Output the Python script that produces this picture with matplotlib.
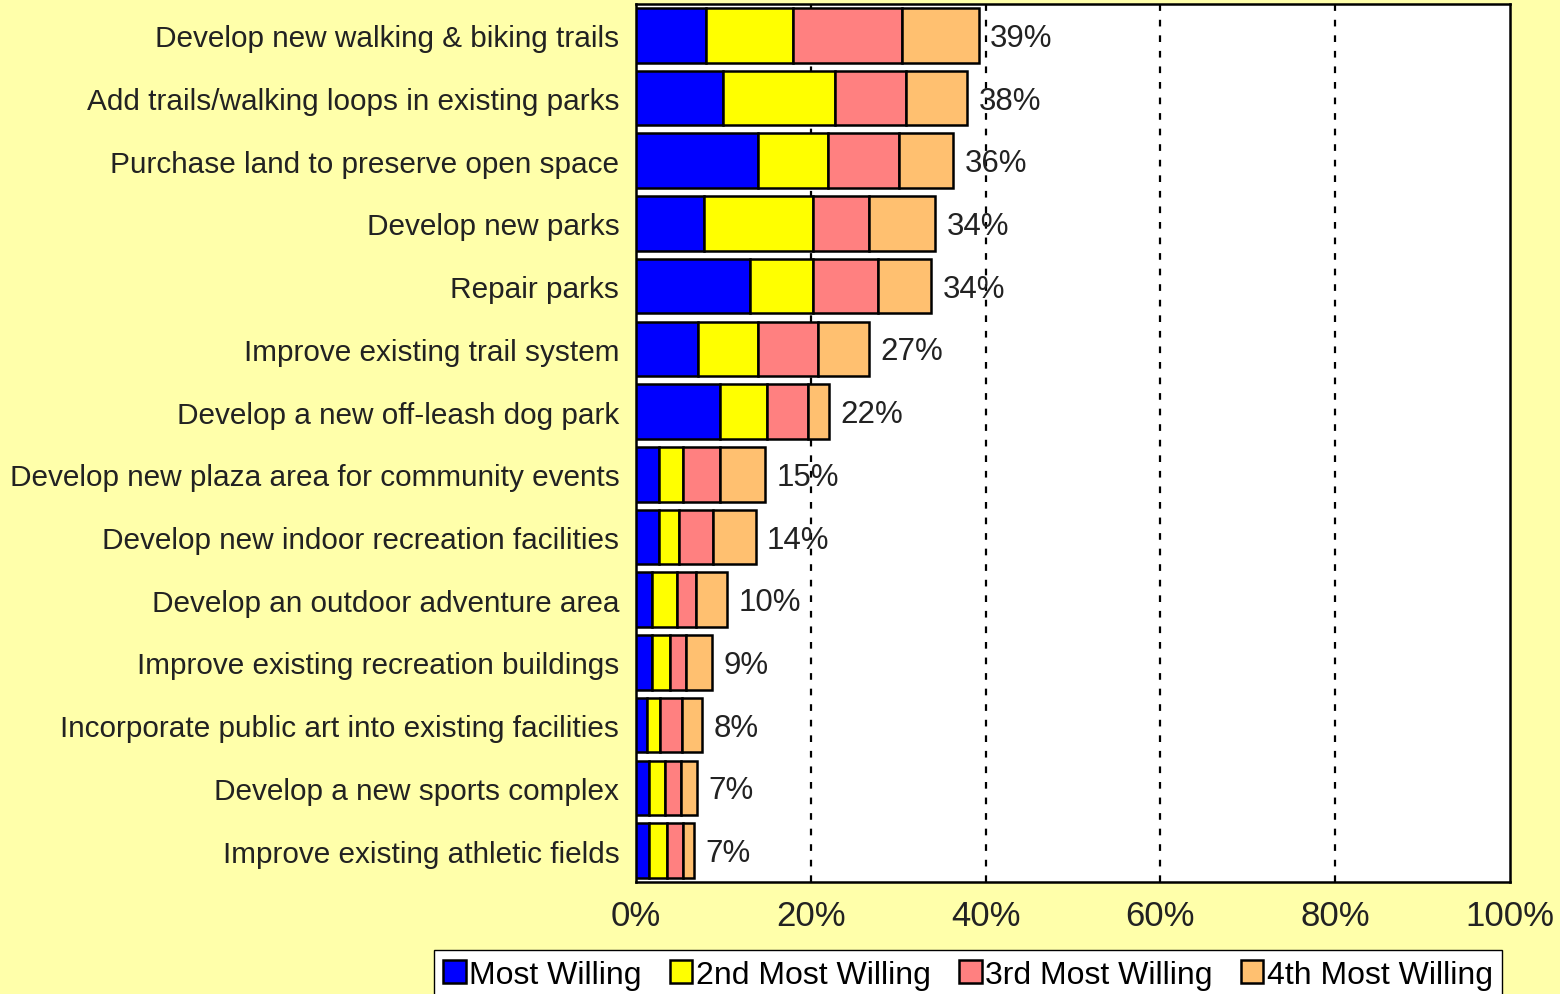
import matplotlib.pyplot as plt
import numpy as np

plt.rcParams['font.family'] = ['Liberation Sans', 'DejaVu Sans']

projects = [
    "Develop new walking & biking trails",
    "Add trails/walking loops in existing parks",
    "Purchase land to preserve open space",
    "Develop new parks",
    "Repair parks",
    "Improve existing trail system",
    "Develop a new off-leash dog park",
    "Develop new plaza area for community events",
    "Develop new indoor recreation facilities",
    "Develop an outdoor adventure area",
    "Improve existing recreation buildings",
    "Incorporate public art into existing facilities",
    "Develop a new sports complex",
    "Improve existing athletic fields",
]

# percent of respondents, by rank of willingness to fund
most_willing = [8.0, 9.9, 14.0, 7.8, 13.0, 7.1, 9.6, 2.6, 2.6, 1.8, 1.8, 1.2, 1.5, 1.5]
second_most = [10.0, 12.9, 8.0, 12.4, 7.2, 6.9, 5.4, 2.8, 2.3, 2.9, 2.1, 1.5, 1.8, 2.1]
third_most = [12.4, 8.1, 8.1, 6.5, 7.5, 6.8, 4.7, 4.2, 3.9, 2.2, 1.8, 2.6, 1.9, 1.8]
fourth_most = [8.8, 7.0, 6.2, 7.5, 6.1, 5.9, 2.4, 5.2, 4.9, 3.5, 3.0, 2.3, 1.8, 1.2]

series = [
    ("Most Willing", most_willing, "#0000FF"),
    ("2nd Most Willing", second_most, "#FFFF00"),
    ("3rd Most Willing", third_most, "#FF8080"),
    ("4th Most Willing", fourth_most, "#FFC070"),
]

bg = "#FFFFAA"
fig = plt.figure(figsize=(15.6, 9.95), dpi=100, facecolor=bg)
ax = fig.add_axes([0.4077, 0.1126, 0.5603, 0.8824])
ax.set_facecolor("white")

y = np.arange(len(projects))
left = np.zeros(len(projects))
for name, vals, col in series:
    ax.barh(y, vals, left=left, height=0.87, color=col, edgecolor="black",
            linewidth=1.8, label=name, zorder=3)
    left += np.array(vals)

# total share printed after each bar
for yi, tot in zip(y, left):
    ax.text(tot + 1.3, yi + 0.04, f"{round(tot)}%", va="center", ha="left",
            fontsize=22.5, color="#222222", zorder=4)

ax.set_xlim(0, 100)
ax.set_ylim(len(projects) - 0.5, -0.5)
ax.set_xticks([0, 20, 40, 60, 80, 100])
ax.set_xticklabels(["0%", "20%", "40%", "60%", "80%", "100%"])
ax.set_yticks(y)
ax.set_yticklabels(projects)
ax.tick_params(axis="both", length=0, colors="#222222")
ax.tick_params(axis="x", pad=12, labelsize=25)
ax.tick_params(axis="y", pad=12, labelsize=21.4)
for x in [20, 40, 60, 80]:
    ax.axvline(x, color="black", linestyle=(0, (3, 4)), linewidth=1.6, zorder=2)
for s in ax.spines.values():
    s.set_color("black")
    s.set_linewidth(1.8)

fig.legend(loc="upper center", bbox_to_anchor=(0.6205, 0.0442), ncol=4,
           fontsize=23, frameon=True, fancybox=False, edgecolor="black",
           framealpha=1, handlelength=0.7, handleheight=0.7, handletextpad=0.1,
           columnspacing=0.9, borderpad=0.3, borderaxespad=0)

fig.savefig("out.png", dpi=100, facecolor=bg)
